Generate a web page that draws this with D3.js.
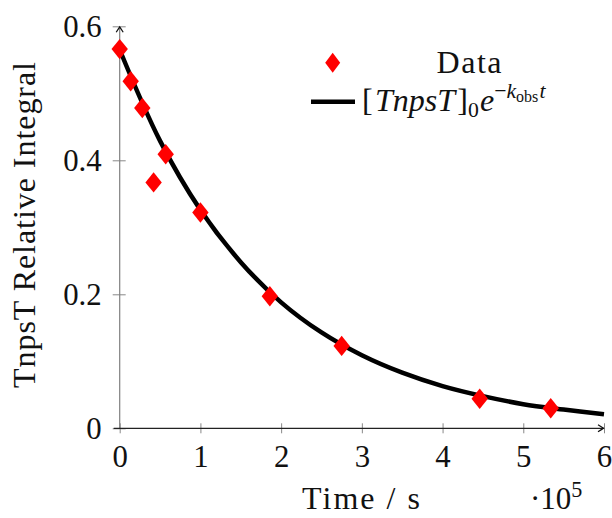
<!DOCTYPE html>
<html><head><meta charset="utf-8">
<script src="https://cdn.jsdelivr.net/npm/d3@7"></script>
<style>
body{margin:0;background:#fff;}
</style>
</head>
<body><svg id="c" width="612" height="518"></svg>
<script>
// Data (time in units of 1e5 s)
const dataT = [0, 0.136, 0.28, 0.42, 0.57, 1.0, 1.86, 2.75, 4.46, 5.34];
const dataY = [0.566, 0.518, 0.478, 0.367, 0.409, 0.322, 0.197, 0.123, 0.044, 0.030];
// Fitted curve
const fitT = [0, 0.5, 1, 1.5, 2, 2.5, 3, 3.5, 4, 4.5, 5, 5.5, 6];
const fitY = [0.565, 0.429, 0.326, 0.248, 0.188, 0.143, 0.109, 0.083, 0.063, 0.048, 0.036, 0.028, 0.021];
const xTicks = [0, 1, 2, 3, 4, 5, 6];
const yTicks = [0, 0.2, 0.4, 0.6];
const yTickLabels = ["0", "0.2", "0.4", "0.6"];

const FONT = '"Liberation Serif"';
const BASE = 28;           // font is set at this size and enlarged with a transform
const TS = 1.1;            // tick label scale
const svg = d3.select("#c");
const x = d3.scaleLinear().domain([0, 6]).range([119.7, 604]);
const y = d3.scaleLinear().domain([0, 0.6]).range([428.3, 26.3]);

// axes with ticks crossing
const gx = svg.append("g").attr("transform", `translate(0,${y(0)})`)
  .call(d3.axisBottom(x).tickValues(xTicks).tickFormat(d3.format("d")).tickSize(5).tickPadding(16));
gx.select(".domain").remove();
gx.selectAll(".tick line").attr("y1", -5).attr("y2", 5).attr("stroke", "#888").attr("stroke-width", 1);
gx.selectAll(".tick text").style("font-family", FONT).attr("font-size", BASE).attr("dy", null)
  .attr("y", 39 / TS).attr("transform", `scale(${TS})`).attr("fill", "#111");

const gy = svg.append("g").attr("transform", `translate(${x(0)},0)`)
  .call(d3.axisLeft(y).tickValues(yTicks).tickFormat((d, i) => yTickLabels[i]).tickSize(6).tickPadding(14));
gy.select(".domain").remove();
gy.selectAll(".tick line").attr("x1", -7).attr("x2", 6).attr("stroke", "#888").attr("stroke-width", 1);
gy.selectAll(".tick text").style("font-family", FONT).attr("font-size", BASE).attr("dy", "0.34em")
  .attr("x", -18 / TS).attr("transform", `scale(${TS})`).attr("fill", "#111");

// axis lines with arrows
svg.append("line").attr("x1", x(0)).attr("x2", x(0)).attr("y1", y(0)).attr("y2", y(0.6) + 1)
  .attr("stroke", "#808080").attr("stroke-width", 1.2);
svg.append("line").attr("x1", x(0) - 6).attr("x2", x(6)).attr("y1", y(0)).attr("y2", y(0))
  .attr("stroke", "#222").attr("stroke-width", 1.2);
svg.append("path").attr("d", `M${x(0) - 3.5},${y(0.6) + 6} Q${x(0) - 1},${y(0.6) + 2} ${x(0)},${y(0.6) + 0.5} Q${x(0) + 1},${y(0.6) + 2} ${x(0) + 3.5},${y(0.6) + 6}`)
  .attr("fill", "none").attr("stroke", "#111").attr("stroke-width", 1.2);
svg.append("path").attr("d", `M${x(6) - 6},${y(0) - 3.5} Q${x(6) - 2},${y(0) - 1} ${x(6) - 0.5},${y(0)} Q${x(6) - 2},${y(0) + 1} ${x(6) - 6},${y(0) + 3.5}`)
  .attr("fill", "none").attr("stroke", "#111").attr("stroke-width", 1.2);

// fitted curve
const line = d3.line().x(d => x(d[0])).y(d => y(d[1])).curve(d3.curveCatmullRom);
svg.append("path").datum(fitT.map((t, i) => [t, fitY[i]]))
  .attr("d", line).attr("fill", "none").attr("stroke", "#000").attr("stroke-width", 4.5);

// diamonds
const diamond = (cx, cy, hw, hh) => `M${cx},${cy - hh}L${cx + hw},${cy}L${cx},${cy + hh}L${cx - hw},${cy}Z`;
svg.append("g").selectAll("path").data(dataT.map((t, i) => [t, dataY[i]])).join("path")
  .attr("d", d => diamond(x(d[0]), y(d[1]), 8.2, 10.2)).attr("fill", "#ff0000");

// text placed at (px,py) with effective size `size`, drawn at BASE and scaled
function label(px, py, size, rot) {
  const s = size / BASE;
  return svg.append("g").attr("transform", `translate(${px},${py})${rot ? " rotate(" + rot + ")" : ""} scale(${s})`)
    .append("text").style("font-family", FONT).attr("font-size", BASE).attr("fill", "#111");
}

// axis labels
label(361, 509, 32).attr("text-anchor", "middle").attr("textLength", 118 * BASE / 32)
  .attr("lengthAdjust", "spacing").text("Time / s");
const sc = label(530, 509, 31);
sc.append("tspan").text("\u00b710");
sc.append("tspan").attr("dy", -11).attr("font-size", 20).text("5");
label(35, 225, 32, -90).attr("text-anchor", "middle").attr("textLength", 326 * BASE / 32)
  .attr("lengthAdjust", "spacing").text("TnpsT Relative Integral");

// legend
svg.append("path").attr("d", diamond(332.7, 62.7, 7.5, 10)).attr("fill", "#ff0000");
label(469, 73, 32).attr("text-anchor", "middle").attr("textLength", 65 * BASE / 32)
  .attr("lengthAdjust", "spacing").text("Data");
svg.append("line").attr("x1", 311).attr("x2", 355).attr("y1", 101.7).attr("y2", 101.7).attr("stroke", "#000").attr("stroke-width", 4.5);
const f = label(362, 111, 32);
f.append("tspan").text("[");
f.append("tspan").attr("font-style", "italic").attr("dx", 2).text("TnpsT");
f.append("tspan").attr("dx", 2).text("]");
f.append("tspan").attr("font-size", 19).attr("dy", 5).text("0");
f.append("tspan").attr("font-style", "italic").attr("dy", -5).attr("dx", 1).text("e");
f.append("tspan").attr("font-size", 19).attr("dy", -11).text("\u2212");
f.append("tspan").attr("font-size", 19).attr("font-style", "italic").text("k");
f.append("tspan").attr("font-size", 14).attr("dy", 3.5).text("obs");
f.append("tspan").attr("font-size", 19).attr("font-style", "italic").attr("dy", -3.5).attr("dx", 1).text("t");
</script></body></html>
